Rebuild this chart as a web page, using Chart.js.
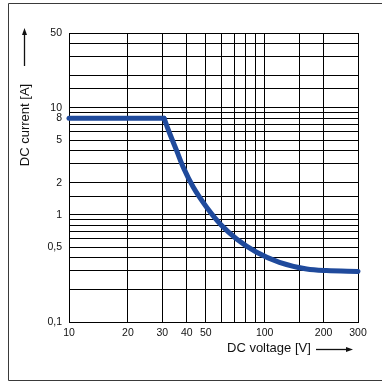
<!DOCTYPE html>
<html>
<head>
<meta charset="utf-8">
<script src="https://cdn.jsdelivr.net/npm/chart.js@4.4.1/dist/chart.umd.min.js"></script>
<style>
  html, body { margin: 0; padding: 0; background: #fff; }
  #wrap { width: 382px; height: 383px; position: relative; }
</style>
</head>
<body>
<div id="wrap"><canvas id="c" width="382" height="383"></canvas></div>
<script>
// Flat part of the limit curve (current limited to 8 A)
const flatVoltage = [10, 30.6];
const flatCurrent = [8, 8];
// Falling part of the limit curve
const curveVoltage = [30.6, 32.8, 35.5, 38.4, 43.2, 50.5, 60.3, 71.9, 91, 119, 164, 207, 300];
const curveCurrent = [8, 5.7, 3.98, 2.78, 1.81, 1.18, 0.795, 0.597, 0.448, 0.361, 0.313, 0.302, 0.297];
// Labelled ticks
const xTickLabels = [10, 20, 30, 40, 50, 100, 200, 300];
const yTickLabels = [0.1, 0.5, 1, 2, 5, 8, 10, 50];
const xTitle = 'DC voltage [V]';
const yTitle = 'DC current [A]';

const toXY = (xs, ys) => xs.map((x, i) => ({ x: x, y: ys[i] }));
const near = (v, t) => Math.abs(v - t) < 1e-6 * Math.max(1, t);
const fmt = v => String(v).replace('.', ',');

const BLUE = '#1f4a9c';
const FONT = "'Liberation Sans', Arial, sans-serif";

const decor = {
  id: 'decor',
  beforeDraw(chart) {
    const ctx = chart.ctx;
    ctx.save();
    ctx.fillStyle = '#fff';
    ctx.fillRect(0, 0, chart.width, chart.height);
    ctx.restore();
  },
  afterDraw(chart) {
    const ctx = chart.ctx;
    ctx.save();
    // outer frame (open on the right)
    ctx.strokeStyle = '#3a3a3a';
    ctx.lineWidth = 1;
    ctx.beginPath();
    ctx.moveTo(382, 3.5); ctx.lineTo(8.5, 3.5); ctx.lineTo(8.5, 380.5); ctx.lineTo(382, 380.5);
    ctx.stroke();

    ctx.fillStyle = '#111';
    ctx.strokeStyle = '#111';
    ctx.font = '13px ' + FONT;
    // y title
    ctx.save();
    ctx.translate(25, 125);
    ctx.rotate(-Math.PI / 2);
    ctx.textAlign = 'center';
    ctx.textBaseline = 'middle';
    ctx.fillText(yTitle, 0, 0);
    ctx.restore();
    // y arrow
    ctx.lineWidth = 1.3;
    ctx.beginPath(); ctx.moveTo(24.5, 66); ctx.lineTo(24.5, 34); ctx.stroke();
    ctx.beginPath(); ctx.moveTo(24.5, 28); ctx.lineTo(22, 35); ctx.lineTo(27, 35); ctx.closePath(); ctx.fill();
    // x title
    ctx.textAlign = 'left';
    ctx.textBaseline = 'middle';
    ctx.fillText(xTitle, 227, 348);
    // x arrow
    ctx.beginPath(); ctx.moveTo(316, 349.5); ctx.lineTo(347, 349.5); ctx.stroke();
    ctx.beginPath(); ctx.moveTo(353, 349.5); ctx.lineTo(346, 347); ctx.lineTo(346, 352); ctx.closePath(); ctx.fill();
    ctx.restore();
  }
};

new Chart(document.getElementById('c'), {
  type: 'scatter',
  data: {
    datasets: [
      {
        data: toXY(flatVoltage, flatCurrent),
        showLine: true, borderColor: BLUE, backgroundColor: BLUE,
        borderWidth: 5, pointRadius: 0, tension: 0,
        borderCapStyle: 'round', borderJoinStyle: 'round'
      },
      {
        data: toXY(curveVoltage, curveCurrent),
        showLine: true, borderColor: BLUE, backgroundColor: BLUE,
        borderWidth: 5, pointRadius: 0, cubicInterpolationMode: 'monotone',
        borderCapStyle: 'round', borderJoinStyle: 'round'
      }
    ]
  },
  options: {
    responsive: false,
    animation: false,
    clip: false,
    layout: { padding: { left: 0, top: 33, right: 24, bottom: 0 } },
    plugins: { legend: { display: false }, tooltip: { enabled: false } },
    scales: {
      x: {
        type: 'logarithmic', min: 10, max: 300,
        border: { display: true, color: '#000', width: 1 },
        grid: { color: '#000', lineWidth: 1, drawTicks: false },
        ticks: {
          autoSkip: false, maxRotation: 0, padding: 5, color: '#111',
          font: { size: 10.5, family: FONT },
          callback: v => xTickLabels.some(t => near(v, t)) ? fmt(v) : ''
        },
        afterFit: s => { s.height = 61; s.paddingLeft = 0; s.paddingRight = 0; }
      },
      y: {
        type: 'logarithmic', min: 0.1, max: 50,
        border: { display: true, color: '#000', width: 1 },
        grid: { color: '#000', lineWidth: 1, drawTicks: false },
        ticks: {
          autoSkip: false, padding: 7, color: '#111',
          font: { size: 10.5, family: FONT },
          callback: v => { const t = yTickLabels.find(t => near(v, t)); return t !== undefined ? fmt(t) : ''; }
        },
        afterFit: s => { s.width = 69; s.paddingTop = 0; s.paddingBottom = 0; }
      }
    }
  },
  plugins: [decor]
});
</script>
</body>
</html>
